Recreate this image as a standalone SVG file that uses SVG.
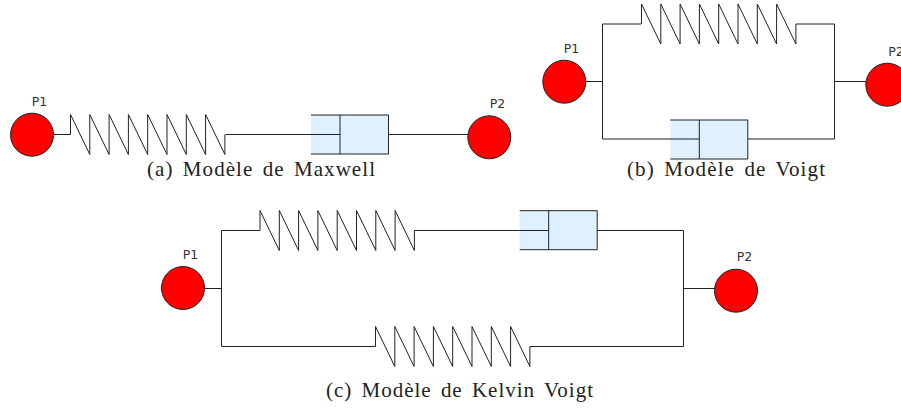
<svg xmlns="http://www.w3.org/2000/svg" width="901" height="409" viewBox="0 0 901 409">
<style>
.w{fill:none;stroke:#222;stroke-width:1;stroke-linejoin:miter}
.n{fill:#f00;stroke:#222;stroke-width:1}
.d{fill:#dff1fe;stroke:none}
.l{font-family:"DejaVu Sans",sans-serif;font-size:12.5px;fill:#333;text-anchor:middle}
.c{font-family:"Liberation Serif",serif;font-size:21px;word-spacing:3px;fill:#222}
</style>
<defs>
<path id="spring" class="w" d="M0 20V0L19.3 40V0L38.6 40V0L57.9 40V0L77.2 40V0L96.5 40V0L115.8 40V0L135.1 40V0L154.4 40V20"/>
<g id="dash">
<rect class="d" width="77.5" height="39"/>
<path class="w" d="M0 0H77.5V39H0M29 0V39"/>
</g>
</defs>
<g id="connectors">
<path class="w" d="M53.5 134.5H70.5M225.5 134.5H340M388 134.5H468"/>
<use href="#spring" x="70.5" y="114.5"/>
<path class="w" d="M585.5 81.5H602.5M602.5 139V24H641M796 24H834.5V139H748M670 139H699M602.5 139H670M834.5 81.5H866"/>
<use href="#spring" x="641.5" y="4"/>
<path class="w" d="M204.5 288.5H221.5M221.5 230.5V346.5H375.5M221.5 230.5H260M414.5 230.5H549M597 230.5H683.5V346.5H530M683.5 288.5H715"/>
<use href="#spring" x="260" y="210.5"/>
<use href="#spring" x="375.5" y="326.5"/>
</g>
<g id="dashpot-a"><use href="#dash" x="311" y="115"/><path class="w" d="M311 134.5H340"/></g>
<g id="dashpot-b"><use href="#dash" x="670.3" y="120"/><path class="w" d="M670 139H699"/></g>
<g id="dashpot-c"><use href="#dash" x="519.7" y="210.7"/><path class="w" d="M519.7 230.5H549"/></g>
<g id="a-p1"><circle class="n" cx="32" cy="134.7" r="21.5"/><text class="l" x="39.5" y="105.5">P1</text></g>
<g id="a-p2"><circle class="n" cx="489.3" cy="137.3" r="21.5"/><text class="l" x="497.5" y="107.5">P2</text></g>
<g id="b-p1"><circle class="n" cx="564.3" cy="81.7" r="21.5"/><text class="l" x="571.5" y="52.5">P1</text></g>
<g id="b-p2"><circle class="n" cx="887.3" cy="84.7" r="21.5"/><text class="l" x="896" y="55.5">P2</text></g>
<g id="c-p1"><circle class="n" cx="183" cy="288" r="21.5"/><text class="l" x="190.5" y="259">P1</text></g>
<g id="c-p2"><circle class="n" cx="736" cy="290.7" r="21.5"/><text class="l" x="744.5" y="261">P2</text></g>
<text class="c" x="147" y="176" textLength="228" lengthAdjust="spacing">(a) Modèle de Maxwell</text>
<text class="c" x="627" y="176" textLength="198" lengthAdjust="spacing">(b) Modèle de Voigt</text>
<text class="c" x="326" y="397" textLength="267" lengthAdjust="spacing">(c) Modèle de Kelvin Voigt</text>
</svg>
